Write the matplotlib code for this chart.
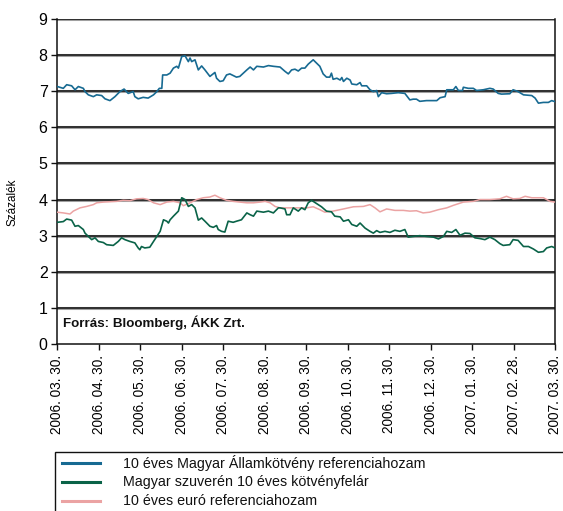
import matplotlib
matplotlib.use("Agg")
import matplotlib.pyplot as plt
from matplotlib.lines import Line2D
from matplotlib.patches import Rectangle
from matplotlib import font_manager

# ---------------- data (x in months since 2006.03.30) ----------------
tick_labels = ["2006. 03. 30.", "2006. 04. 30.", "2006. 05. 30.", "2006. 06. 30.",
               "2006. 07. 30.", "2006. 08. 30.", "2006. 09. 30.", "2006. 10. 30.",
               "2006. 11. 30.", "2006. 12. 30.", "2007. 01. 30.", "2007. 02. 28.",
               "2007. 03. 30."]

huf_x = [0.0, 0.145, 0.226, 0.346, 0.427, 0.507, 0.628, 0.668, 0.748, 0.869, 0.949,
         1.07, 1.15, 1.27, 1.39, 1.51, 1.61, 1.71, 1.83, 1.87, 1.95, 2.07, 2.19, 2.32,
         2.40, 2.46, 2.52, 2.54, 2.64, 2.72, 2.80, 2.88, 2.92, 3.00, 3.08, 3.16, 3.20,
         3.24, 3.32, 3.40, 3.48, 3.56, 3.68, 3.80, 3.84, 3.92, 4.00, 4.08, 4.16, 4.32,
         4.40, 4.57, 4.65, 4.73, 4.81, 4.97, 5.09, 5.21,
         5.37, 5.49, 5.57, 5.65, 5.73, 5.81, 5.89, 5.97, 6.05, 6.17, 6.25, 6.33, 6.41,
         6.49, 6.57, 6.61, 6.65, 6.74, 6.82, 6.86, 6.90, 6.98, 7.06, 7.10, 7.22, 7.30,
         7.34, 7.46, 7.54, 7.62, 7.70, 7.74, 7.82, 7.94, 8.06, 8.22, 8.38, 8.50, 8.58,
         8.66, 8.74, 8.90, 9.07, 9.15, 9.23, 9.35, 9.39, 9.55, 9.61, 9.67, 9.77, 9.79,
         9.91, 10.03, 10.11, 10.27, 10.43, 10.51, 10.63, 10.71, 10.91, 10.99, 11.11,
         11.24, 11.44, 11.52, 11.60, 11.72, 11.84, 11.92, 12.0]
huf_y = [7.13, 7.08, 7.18, 7.15, 7.04, 7.13, 7.08, 6.99, 6.90, 6.85, 6.90,
         6.88, 6.79, 6.74, 6.85, 6.99, 7.06, 6.94, 6.99, 6.85, 6.79, 6.83, 6.81, 6.90,
         6.99, 7.08, 7.08, 7.45, 7.45, 7.50, 7.64, 7.69, 7.64, 7.96, 7.98, 7.82, 7.92,
         7.82, 7.87, 7.59, 7.70, 7.59, 7.41, 7.52, 7.36, 7.27, 7.29, 7.45, 7.48, 7.39,
         7.41, 7.59, 7.67, 7.59, 7.69, 7.67, 7.71, 7.69,
         7.67, 7.55, 7.48, 7.59, 7.61, 7.56, 7.64, 7.64, 7.75, 7.87, 7.78, 7.69, 7.48,
         7.39, 7.39, 7.50, 7.33, 7.36, 7.31, 7.38, 7.27, 7.36, 7.31, 7.20, 7.18, 7.24,
         7.15, 7.15, 7.04, 6.99, 7.02, 6.85, 6.96, 6.93, 6.94, 6.96, 6.94, 6.76, 6.78,
         6.78, 6.72, 6.74, 6.74, 6.74, 6.82, 6.85, 7.04, 7.04, 7.13, 7.02, 7.02, 7.11,
         7.08, 7.08, 7.02, 7.04, 7.08, 7.06, 6.94, 6.92, 6.93, 7.04, 6.99,
         6.90, 6.88, 6.81, 6.67, 6.69, 6.69, 6.74, 6.71]

spread_x = [0.0, 0.145, 0.226, 0.346, 0.427, 0.507, 0.628, 0.668, 0.748, 0.829, 0.909,
            0.989, 1.11, 1.19, 1.35, 1.47, 1.55, 1.63, 1.75, 1.87, 1.95, 1.99, 2.03,
            2.11, 2.23, 2.32, 2.40, 2.48, 2.56, 2.64, 2.68, 2.72, 2.80, 2.92, 3.00,
            3.08, 3.16, 3.24, 3.32, 3.40, 3.48, 3.56, 3.68, 3.76, 3.84, 3.88, 3.96,
            4.04, 4.12, 4.24, 4.32, 4.44, 4.57, 4.65, 4.73, 4.81, 4.97, 5.09, 5.21, 5.33,
            5.37, 5.49, 5.53, 5.61, 5.69, 5.81, 5.89, 5.97, 6.05, 6.13, 6.25, 6.37,
            6.49, 6.61, 6.69, 6.82, 6.90, 7.02, 7.10, 7.22, 7.30, 7.42, 7.54, 7.62,
            7.70, 7.78, 7.90, 8.02, 8.14, 8.26, 8.38, 8.46, 8.58, 8.74, 8.90, 9.07,
            9.19, 9.31, 9.39, 9.51, 9.61, 9.71, 9.83, 9.95, 10.07, 10.19, 10.31, 10.43,
            10.55, 10.67, 10.75, 10.91, 10.99, 11.11, 11.24, 11.36, 11.48, 11.60,
            11.72, 11.80, 11.92, 12.0]
spread_y = [3.37, 3.39, 3.46, 3.43, 3.26, 3.28, 3.17, 3.07, 2.98, 2.89, 2.94,
            2.84, 2.81, 2.75, 2.73, 2.84, 2.94, 2.89, 2.84, 2.80, 2.66, 2.61, 2.70,
            2.66, 2.68, 2.84, 2.98, 3.12, 3.44, 3.40, 3.35, 3.44, 3.54, 3.68, 4.05,
            4.00, 3.81, 3.86, 3.77, 3.43, 3.49, 3.40, 3.26, 3.23, 3.28, 3.17, 3.12,
            3.10, 3.40, 3.37, 3.40, 3.44, 3.63, 3.58, 3.54, 3.68, 3.65, 3.68, 3.63, 3.77,
            3.77, 3.74, 3.58, 3.58, 3.77, 3.68, 3.77, 3.72, 3.91, 3.98, 3.89, 3.80,
            3.68, 3.66, 3.54, 3.52, 3.40, 3.44, 3.31, 3.26, 3.35, 3.21, 3.12, 3.07,
            3.14, 3.09, 3.12, 3.09, 3.15, 3.12, 3.17, 2.96, 2.98, 3.00, 2.98, 2.96,
            2.91, 2.98, 3.12, 3.09, 3.17, 3.01, 3.07, 3.06, 2.94, 2.92, 2.89, 2.96,
            2.89, 2.78, 2.73, 2.75, 2.89, 2.87, 2.70, 2.70, 2.63, 2.54,
            2.56, 2.66, 2.70, 2.66]

eur_x = [0.0, 0.145, 0.306, 0.386, 0.547, 0.708, 0.869, 0.949, 1.11, 1.27, 1.43, 1.59,
         1.75, 1.91, 2.07, 2.19, 2.32, 2.48, 2.64, 2.80, 2.96, 3.04, 3.20, 3.36, 3.52,
         3.68, 3.80, 3.92, 4.08, 4.24, 4.40, 4.57, 4.73, 4.89, 5.01, 5.13, 5.25,
         5.37, 5.69, 6.01, 6.17, 6.33, 6.45, 6.65, 6.90, 7.14, 7.38, 7.54, 7.66, 7.78,
         7.94, 8.14, 8.34, 8.50, 8.66, 8.82, 8.98, 9.19, 9.39, 9.55, 9.79, 10.03,
         10.19, 10.43, 10.67, 10.83, 10.99, 11.15, 11.28, 11.44, 11.72, 11.88, 12.0]
eur_y = [3.65, 3.63, 3.60, 3.68, 3.77, 3.81, 3.86, 3.91, 3.93, 3.94, 3.95, 3.98,
         3.97, 4.02, 4.03, 4.00, 3.91, 3.86, 3.93, 3.95, 3.91, 3.83, 3.91, 4.00, 4.05,
         4.07, 4.12, 4.05, 3.98, 3.95, 3.93, 3.91, 3.91, 3.93, 3.95, 3.91, 3.81,
         3.77, 3.77, 3.77, 3.80, 3.72, 3.65, 3.68, 3.74, 3.80, 3.81, 3.86, 3.77, 3.66,
         3.74, 3.70, 3.70, 3.68, 3.69, 3.63, 3.65, 3.72, 3.77, 3.84, 3.93, 3.95,
         4.00, 4.00, 4.02, 4.09, 4.02, 4.03, 4.09, 4.05, 4.05, 3.95, 3.93]

series_names = ["10 éves Magyar Államkötvény referenciahozam",
                "Magyar szuverén 10 éves kötvényfelár",
                "10 éves euró referenciahozam"]
series_colors = ["#176a92", "#0a6348", "#eba3a3"]

# ---------------- fonts ----------------
avail = {f.name for f in font_manager.fontManager.ttflist}
narrow = "Liberation Sans Narrow" if "Liberation Sans Narrow" in avail else "Liberation Sans"
plt.rcParams["font.family"] = [narrow, "DejaVu Sans"]

W, H = 563, 511
fig = plt.figure(figsize=(W / 100, H / 100), dpi=100)
L, R, T, B = 57.3, 555, 19, 344
ax = fig.add_axes([L / W, (H - B) / H, (R - L) / W, (B - T) / H])

ax.set_xlim(0, 12)
ax.set_ylim(0, 9)
for yv in range(1, 10):
    ax.axhline(yv, color="#a0a0a0", lw=2.2, zorder=1)
    ax.axhline(yv, color="#111111", lw=1.1, zorder=1.5)

ax.plot(eur_x, eur_y, color=series_colors[2], lw=1.1, zorder=3)
ax.plot(spread_x, spread_y, color=series_colors[1], lw=1.2, zorder=4)
ax.plot(huf_x, huf_y, color=series_colors[0], lw=1.2, zorder=4)

ax.spines["top"].set_visible(False)
for s in ["left", "right", "bottom"]:
    ax.spines[s].set_color("#111111")
    ax.spines[s].set_linewidth(1.1)

ax.set_yticks(range(0, 10))
ax.set_yticklabels([str(v) for v in range(0, 10)], fontsize=11.5)
ax.set_xticks(range(len(tick_labels)))
ax.set_xticklabels(tick_labels, rotation=90, fontsize=9.8, va="top")
ax.tick_params(axis="both", direction="out", length=4, width=1, color="#111111", pad=3)
ax.tick_params(axis="x", pad=4)

ax.set_ylabel("Százalék", fontsize=8.5)
ax.yaxis.set_label_coords(-0.077, 0.437)

ax.text(0.012, 0.065, "Forrás: Bloomberg, ÁKK Zrt.", transform=ax.transAxes,
        fontsize=9.6, fontweight="bold", ha="left", va="center", color="#111111")

# ---------------- legend (manual, partially off-canvas) ----------------
box_left, box_top = 55, 452
fig.add_artist(Rectangle((box_left / W, -0.05), (W + 20 - box_left) / W, (H - box_top) / H + 0.05,
                         transform=fig.transFigure, fill=False, edgecolor="#111111",
                         lw=1.0, clip_on=False))
row_y = [463, 482, 501]
for name, col, ry in zip(series_names, series_colors, row_y):
    yy = (H - ry) / H
    fig.add_artist(Line2D([62 / W, 100 / W], [yy, yy], transform=fig.transFigure,
                          color=col, lw=2.2))
    fig.text(123 / W, yy, name, fontsize=10.3, ha="left", va="center", color="#111111")

fig.savefig("out.png", dpi=100)
